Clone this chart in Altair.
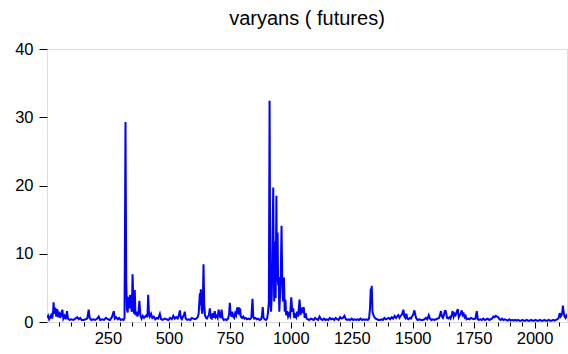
import altair as alt
import pandas as pd

obs_1 = [1, 5, 9, 13, 17, 21, 25, 27, 30, 34, 38, 42, 46, 50, 54, 58, 63, 67, 72, 77, 82, 86, 92, 100, 108, 116, 124, 130, 136, 142, 150, 158, 165, 171, 175, 182, 190, 198, 206, 212, 218, 226, 234, 242, 250, 258, 266, 274, 278, 284, 290, 296, 302, 308, 314, 318,
         322, 325, 328, 331, 334, 337, 341, 344, 348, 351, 354, 357, 360, 363, 367, 371, 375, 379, 383, 388, 393, 398, 403, 408, 412, 415, 418, 422, 427, 432, 438, 444, 450, 456, 463, 468, 475, 482, 490, 498, 505, 512, 518, 524, 530, 536]
val_1 = [0.6, 0.9, 0.4, 0.7, 1.0, 0.5, 1.4, 2.9, 1.2, 2.1, 0.8, 1.9, 0.7, 1.5, 0.6, 1.0, 1.8, 0.5, 0.9, 0.4, 1.6, 0.5, 0.3, 0.4, 0.3, 0.5, 0.7, 0.4, 0.6, 0.3, 0.3, 0.4, 0.5, 1.8, 0.6, 0.3, 0.4, 0.3, 0.5, 0.8, 0.3, 0.4, 0.3, 0.6, 0.4, 0.3, 0.7, 1.6, 0.5, 0.7, 0.4, 0.6, 0.3, 0.4, 0.3, 0.6,
         29.3, 5.9, 1.8, 1.4, 3.7, 2.0, 4.0, 2.5, 1.5, 7.0, 3.0, 1.2, 4.7, 1.0, 1.5, 0.8, 1.3, 3.1, 1.0, 0.5, 0.9, 0.6, 0.8, 1.0, 0.7, 4.0, 1.5, 0.8, 1.2, 0.6, 0.8, 0.4, 0.6, 0.5, 1.2, 0.4, 0.3, 0.5, 0.4, 0.3, 0.6, 0.4, 0.9, 0.5, 0.7, 0.5]

obs_2 = [541, 545, 549, 553, 558, 562, 565, 569, 575, 582, 588, 594, 600, 606, 612, 618, 622, 627, 629, 631, 634, 637, 639, 642, 645, 648, 652, 656, 660, 664, 668, 672, 676, 680, 684, 688, 692, 696, 700, 704, 708, 712, 716, 720, 725, 731, 737, 743, 747, 750, 753, 757, 760, 764, 768, 772, 776, 780, 783, 786, 789, 792, 795, 800, 805, 810, 815, 820, 826, 832, 838, 843, 846, 850, 855, 860, 866, 872, 878, 882, 885, 888, 893, 898, 903, 907, 910]
val_2 = [1.0, 1.7, 0.6, 0.4, 0.8, 1.0, 1.5, 0.5, 0.3, 0.4, 0.3, 0.6, 0.5, 0.4, 0.5, 0.7, 1.2, 4.2, 2.5, 4.8, 2.0, 1.2, 2.5, 8.45, 2.5, 1.0, 0.6, 0.5, 0.8, 1.0, 2.0, 0.6, 0.5, 1.3, 0.6, 1.6, 0.7, 0.9, 0.6, 1.8, 1.0, 0.6, 1.8, 0.6, 0.3, 0.4, 0.3, 0.5, 1.2, 2.8, 1.2, 0.8, 1.5, 0.8, 0.6, 1.3, 1.0, 2.1, 1.2, 2.2, 1.0, 2.0, 0.8, 0.6, 0.8, 0.5, 0.6, 0.4, 0.5, 0.4, 0.6, 3.4, 0.8, 0.5, 0.6, 0.4, 0.5, 0.3, 0.4, 1.0, 2.2, 0.6, 0.4, 0.3, 0.5, 1.5, 3.0]

obs_3 = [913, 916, 919, 922, 925, 928, 930, 932, 935, 938, 941, 943, 946, 948, 950, 953, 956, 959, 962, 965, 968, 972, 975, 978, 981, 985, 989, 993, 997, 1002, 1006, 1010, 1014, 1018, 1022, 1026, 1030, 1036, 1040, 1043, 1047, 1050, 1053, 1057, 1061, 1065, 1070, 1076, 1082, 1088, 1094, 1100, 1106, 1112, 1118, 1124, 1130, 1136, 1142, 1148, 1154, 1160, 1166, 1172, 1178, 1184, 1190, 1196, 1202, 1208, 1214, 1220, 1226, 1232, 1238, 1244, 1250, 1256, 1262, 1268, 1274, 1280, 1286, 1292, 1298, 1304, 1310, 1316, 1321]
val_3 = [32.4, 3.0, 1.5, 4.0, 11.5, 19.7, 8.0, 3.0, 11.8, 3.5, 18.5, 5.9, 13.1, 5.4, 6.6, 1.5, 4.0, 7.0, 14.1, 6.3, 3.0, 6.5, 1.5, 3.3, 1.0, 1.6, 0.8, 1.2, 0.9, 3.6, 1.5, 2.0, 0.6, 1.0, 0.7, 1.5, 0.8, 3.3, 1.0, 1.7, 2.1, 1.3, 2.2, 0.6, 1.3, 0.5, 0.4, 0.3, 0.5, 0.4, 0.3, 0.6, 0.4, 0.3, 0.8, 0.4, 0.3, 0.5, 0.3, 0.4, 0.3, 0.6, 0.4, 0.5, 0.3, 0.6, 0.4, 0.3, 0.7, 0.5, 0.6, 0.9, 0.4, 0.3, 0.4, 0.3, 0.5, 0.3, 0.4, 0.3, 0.4, 0.3, 0.5, 0.3, 0.4, 0.3, 0.4, 0.3, 0.5]

obs_4 = [1325, 1328, 1330, 1332, 1335, 1339, 1343, 1348, 1354, 1360, 1366, 1372, 1378, 1384, 1390, 1396, 1402, 1408, 1414, 1420, 1426, 1432, 1436, 1441, 1446, 1451, 1456, 1462, 1466, 1470, 1474, 1478, 1483, 1488, 1493, 1497, 1501, 1507, 1511, 1515, 1520, 1527, 1534, 1541, 1548, 1554, 1560, 1566, 1571, 1577, 1583, 1590, 1596, 1602, 1608, 1612, 1616, 1620, 1624, 1628, 1632, 1635, 1638, 1641, 1646, 1651, 1655, 1660, 1664, 1668, 1672, 1676, 1680, 1685, 1689, 1693, 1697, 1701, 1705, 1709, 1713, 1717, 1721, 1727, 1733, 1739, 1745, 1751, 1757, 1763, 1767, 1772, 1778, 1784, 1790, 1796]
val_4 = [2.0, 4.9, 3.0, 5.3, 1.5, 1.0, 0.7, 0.5, 0.4, 0.3, 0.3, 0.4, 0.3, 0.6, 0.4, 0.5, 0.6, 0.4, 0.7, 0.5, 0.9, 0.6, 0.8, 1.0, 0.6, 0.9, 1.1, 1.8, 0.8, 0.6, 1.2, 0.5, 0.4, 0.6, 0.5, 0.8, 1.0, 1.7, 1.0, 0.5, 0.3, 0.4, 0.3, 0.3, 0.4, 0.6, 0.4, 1.0, 0.5, 0.3, 0.4, 0.3, 0.4, 0.5, 0.6, 1.0, 1.6, 0.8, 0.6, 1.0, 1.6, 1.6, 1.2, 0.6, 0.5, 0.7, 0.5, 1.0, 1.6, 0.8, 1.2, 1.0, 1.4, 1.9, 0.7, 1.0, 1.2, 1.7, 1.0, 1.2, 0.7, 0.9, 0.4, 0.5, 0.4, 0.6, 0.5, 0.4, 0.5, 1.6, 0.4, 0.3, 0.4, 0.3, 0.5, 0.3]

obs_5 = [1802, 1808, 1814, 1820, 1826, 1831, 1836, 1841, 1846, 1851, 1856, 1861, 1866, 1872, 1878, 1884, 1890, 1896, 1902, 1908, 1914, 1920, 1926, 1932, 1938, 1944, 1950, 1956, 1962, 1968, 1974, 1980, 1986, 1992, 1998, 2004, 2010, 2016, 2022, 2028, 2034, 2040, 2046, 2052, 2058, 2064, 2070, 2076, 2082, 2088, 2094, 2099, 2103, 2107, 2111, 2114, 2116, 2119, 2123, 2127, 2130, 2133]
val_5 = [0.4, 0.5, 0.3, 0.4, 0.5, 0.8, 0.7, 0.9, 0.8, 0.7, 0.4, 0.3, 0.5, 0.3, 0.4, 0.3, 0.2, 0.4, 0.2, 0.3, 0.2, 0.3, 0.2, 0.3, 0.2, 0.2, 0.3, 0.2, 0.2, 0.3, 0.2, 0.2, 0.3, 0.2, 0.2, 0.3, 0.2, 0.2, 0.3, 0.2, 0.2, 0.3, 0.2, 0.2, 0.3, 0.2, 0.2, 0.3, 0.2, 0.3, 0.4, 0.6, 1.3, 0.8, 1.0, 1.5, 2.4, 1.5, 0.8, 0.6, 0.9, 0.6]

x_major = [250, 500, 750, 1000, 1250, 1500, 1750, 2000]
y_ticks = [0, 10, 20, 30, 40]
x_tick_step = 50
n_obs = 2133

obs = obs_1 + obs_2 + obs_3 + obs_4 + obs_5
vals = val_1 + val_2 + val_3 + val_4 + val_5
df = pd.DataFrame({"obs": obs, "value": vals})

FONT = "Liberation Sans"
x_ticks_all = list(range(x_tick_step, n_obs, x_tick_step))

chart = alt.Chart(df).mark_line(color="#0000FF", strokeWidth=2, clip=True).encode(
    x=alt.X("obs:Q", scale=alt.Scale(domain=[0, n_obs], nice=False, zero=False),
            axis=alt.Axis(values=x_ticks_all, title=None, grid=False, domain=False, format="d",
                          labelExpr="datum.value % 250 === 0 ? datum.label : ''",
                          labelOverlap=False, labelFontSize=16.5, labelFont=FONT,
                          labelColor="#000000", labelPadding=2, tickColor="#000000",
                          tickWidth=1,
                          tickSize={"condition": {"test": "datum.value % 250 === 0", "value": 6}, "value": 4})),
    y=alt.Y("value:Q", scale=alt.Scale(domain=[0, 40], nice=False),
            axis=alt.Axis(values=y_ticks, title=None, grid=False, domain=False, format="d",
                          labelFontSize=16.5, labelFont=FONT, labelColor="#000000",
                          labelPadding=6, tickSize=8, tickColor="#000000", tickWidth=1)),
).properties(
    width=520,
    height=273,
    title=alt.TitleParams("varyans ( futures)", font=FONT, fontSize=20,
                          fontWeight="normal", color="#000000", anchor="middle", offset=12),
    padding={"left": 47, "right": 1, "top": 49, "bottom": 32},
    autosize=alt.AutoSizeParams(type="none"),
).configure_view(stroke="#222222", strokeWidth=1.5).configure(background="white")

chart.save("out.html", embed_options={"renderer": "svg", "actions": False})
